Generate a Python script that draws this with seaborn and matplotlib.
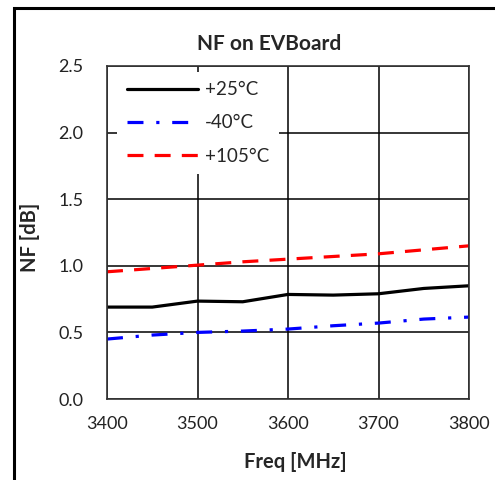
import matplotlib
matplotlib.use("Agg")
import matplotlib.pyplot as plt
import seaborn as sns
import pandas as pd
from matplotlib.patches import Rectangle

freq = [3400, 3450, 3500, 3550, 3600, 3650, 3700, 3750, 3800]
nf_p25 = [0.69, 0.69, 0.735, 0.73, 0.785, 0.78, 0.79, 0.83, 0.85]
nf_m40 = [0.45, 0.48, 0.50, 0.51, 0.525, 0.55, 0.57, 0.60, 0.615]
nf_p105 = [0.955, 0.98, 1.005, 1.03, 1.05, 1.07, 1.09, 1.12, 1.15]
labels = ["+25°C", "-40°C", "+105°C"]
colors = ["#000000", "#0000FF", "#FF0000"]
xticks = [3400, 3500, 3600, 3700, 3800]
yticks = [0.0, 0.5, 1.0, 1.5, 2.0, 2.5]

sns.set_theme(style="white")
plt.rcParams['font.family'] = ['Lato', 'DejaVu Sans']

df = pd.DataFrame({
    "freq": freq * 3,
    "nf": nf_p25 + nf_m40 + nf_p105,
    "temp": [labels[0]] * len(freq) + [labels[1]] * len(freq) + [labels[2]] * len(freq),
})

fig = plt.figure(figsize=(4.95, 4.8), dpi=100)
ax = fig.add_axes([107 / 495, 1 - 399 / 480, (469 - 107) / 495, (399 - 66) / 480])

sns.lineplot(data=df, x="freq", y="nf", hue="temp", style="temp",
             palette=dict(zip(labels, colors)),
             dashes={labels[0]: "", labels[1]: (5, 4, 1, 4), labels[2]: (5, 3.5)},
             linewidth=2.3, ax=ax, legend=True)

ax.set_xlim(3400, 3800)
ax.set_ylim(0, 2.5)
ax.set_xticks(xticks)
ax.set_yticks(yticks)
ax.set_yticklabels([f"{v:.1f}" for v in yticks])
ax.grid(True, color="black", linewidth=1.1)
ax.tick_params(axis="both", length=0, labelsize=13, colors="#222222")
ax.tick_params(axis="y", pad=17)
ax.tick_params(axis="x", pad=12)
for s in ax.spines.values():
    s.set_color("#333333")
    s.set_linewidth(1.2)
ax.set_xlabel("")
ax.set_ylabel("")

leg = ax.legend(loc="upper left", bbox_to_anchor=(0.028, 0.982), frameon=True,
                fontsize=13.5, handlelength=3.8, handletextpad=0.4,
                labelspacing=0.86, borderpad=0.5, borderaxespad=0.0)
leg.get_frame().set_facecolor("white")
leg.get_frame().set_edgecolor("none")
leg.get_frame().set_alpha(1.0)
for h in leg.get_lines():
    h.set_linewidth(2.3)

fig.text(269 / 495, 1 - 44 / 480, "NF on EVBoard", ha="center", va="center",
         fontsize=15, fontweight="bold")
fig.text(295 / 495, 1 - 462 / 480, "Freq [MHz]", ha="center", va="center",
         fontsize=14.5, fontweight="bold")
fig.text(30 / 495, 1 - 237 / 480, "NF [dB]", ha="center", va="center",
         fontsize=14.5, fontweight="bold", rotation=90)

fig.patches.append(Rectangle((14 / 495, -0.2), 2.0, 1.2 - 8 / 480,
                             transform=fig.transFigure, fill=False,
                             edgecolor="black", linewidth=2.2, clip_on=False))

fig.savefig("out.png", dpi=100)
